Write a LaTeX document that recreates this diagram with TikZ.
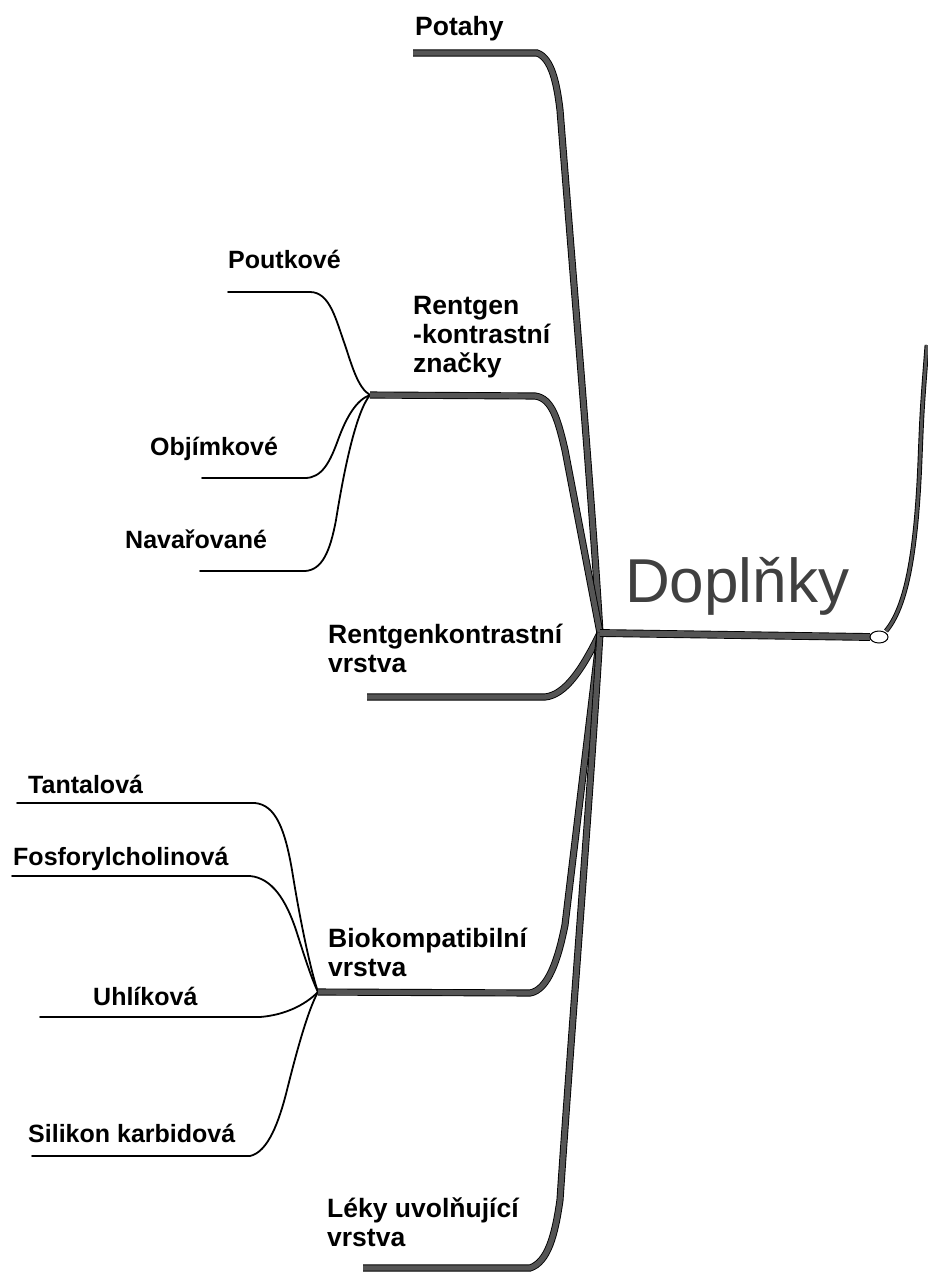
\documentclass[tikz,border=0pt]{standalone}
\usepackage{fontspec}
\setmainfont{Liberation Sans}
\usetikzlibrary{shapes.geometric,positioning}
\definecolor{trunkgray}{HTML}{555555}
\definecolor{titlegray}{HTML}{404040}

\begin{document}
\begin{tikzpicture}[x=1pt,y=-1pt,
  lbl/.style={anchor=base west,inner sep=0pt,align=left,font=\bfseries\fontsize{25}{29}\selectfont},
  biglbl/.style={lbl,font=\bfseries\fontsize{26.5}{29}\selectfont},
  trunk/.style={draw=black,line width=0.9pt,double=trunkgray,double distance=5.3pt},
  twig/.style={draw=black,line width=1.8pt,line cap=round}]
\useasboundingbox (0,0) rectangle (927,1280);
% hubs and free ends
\coordinate (hub) at (600,633);
\coordinate (rzHub) at (370,395);
\coordinate (bkHub) at (318,992);
\coordinate (potEnd) at (413,53);
\coordinate (rvEnd) at (367,697);
\coordinate (lkEnd) at (363,1268);
\coordinate (pouEnd) at (228,292);
\coordinate (objEnd) at (202,478);
\coordinate (navEnd) at (200,571);
\coordinate (tanEnd) at (17,803);
\coordinate (fosEnd) at (12,876);
\coordinate (uhlEnd) at (40,1017);
\coordinate (silEnd) at (32,1156);
\coordinate (topR) at (927,345);
% labels (base = last line)
\node[font=\fontsize{62}{70}\selectfont,text=titlegray,anchor=base west,inner sep=0pt] (title) at (625,602) {Doplňky};
\node[biglbl] (potahy) at (415,35) {Potahy};
\node[biglbl] (rzn) at (413,372) {Rentgen\\-kontrastní\\značky};
\node[biglbl] (rkv) at (328,672) {Rentgenkontrastní\\vrstva};
\node[biglbl] (bio) at (328,976) {Biokompatibilní\\vrstva};
\node[biglbl] (leky) at (327,1246) {Léky uvolňující\\vrstva};
\node[lbl] (pout) at (228,268) {Poutkové};
\node[lbl] (obj) at (150,455) {Objímkové};
\node[lbl] (nav) at (125,548) {Navařované};
\node[lbl] (tan) at (28,793) {Tantalová};
\node[lbl] (fos) at (13,865) {Fosforylcholinová};
\node[lbl] (uhl) at (93,1005) {Uhlíková};
\node[lbl] (sil) at (28,1142) {Silikon karbidová};
% sub branches
\draw[twig] (pouEnd) -- (310,292) .. controls (330,292) and (336,320) .. (345,345) .. controls (352,366) and (358,388) .. (rzHub);
\draw[twig] (objEnd) -- (305,478) .. controls (322,478) and (330,462) .. (338,440) .. controls (346,418) and (356,400) .. (rzHub);
\draw[twig] (navEnd) -- (305,571) .. controls (322,570) and (330,552) .. (336,520) .. controls (344,470) and (356,412) .. (rzHub);
\draw[twig] (tanEnd) -- (255,803) .. controls (276,805) and (285,830) .. (292,870) .. controls (300,920) and (310,968) .. (bkHub);
\draw[twig] (fosEnd) -- (250,876) .. controls (272,878) and (286,900) .. (296,930) .. controls (305,958) and (312,980) .. (bkHub);
\draw[twig] (uhlEnd) -- (260,1017) .. controls (285,1015) and (305,1005) .. (bkHub);
\draw[twig] (silEnd) -- (250,1156) .. controls (268,1152) and (279,1122) .. (287,1090) .. controls (297,1050) and (308,1010) .. (bkHub);
% main branches
\draw[trunk] (potEnd) -- (537,53) .. controls (552,58) and (557,85) .. (560,110) .. controls (575,300) and (592,500) .. (hub);
\draw[trunk] (rzHub) -- (535,396) .. controls (552,398) and (558,420) .. (565,450) -- (hub);
\draw[trunk] (rvEnd) -- (545,697) .. controls (565,695) and (582,670) .. (hub);
\draw[trunk] (bkHub) -- (530,993) .. controls (548,990) and (558,960) .. (565,925) -- (hub);
\draw[trunk] (lkEnd) -- (530,1268) .. controls (548,1262) and (555,1235) .. (560,1200) .. controls (570,1050) and (590,800) .. (hub);
\draw[trunk,double distance=6pt] (hub) -- (870,637);
\draw[trunk,double distance=3pt] (886,631) .. controls (905,608) and (916,560) .. (920,460) .. controls (922,410) .. (topR);
\node[draw=black,line width=1pt,fill=white,ellipse,minimum width=18pt,minimum height=12pt,inner sep=0pt] (knot) at (879,637) {};
\end{tikzpicture}
\end{document}
